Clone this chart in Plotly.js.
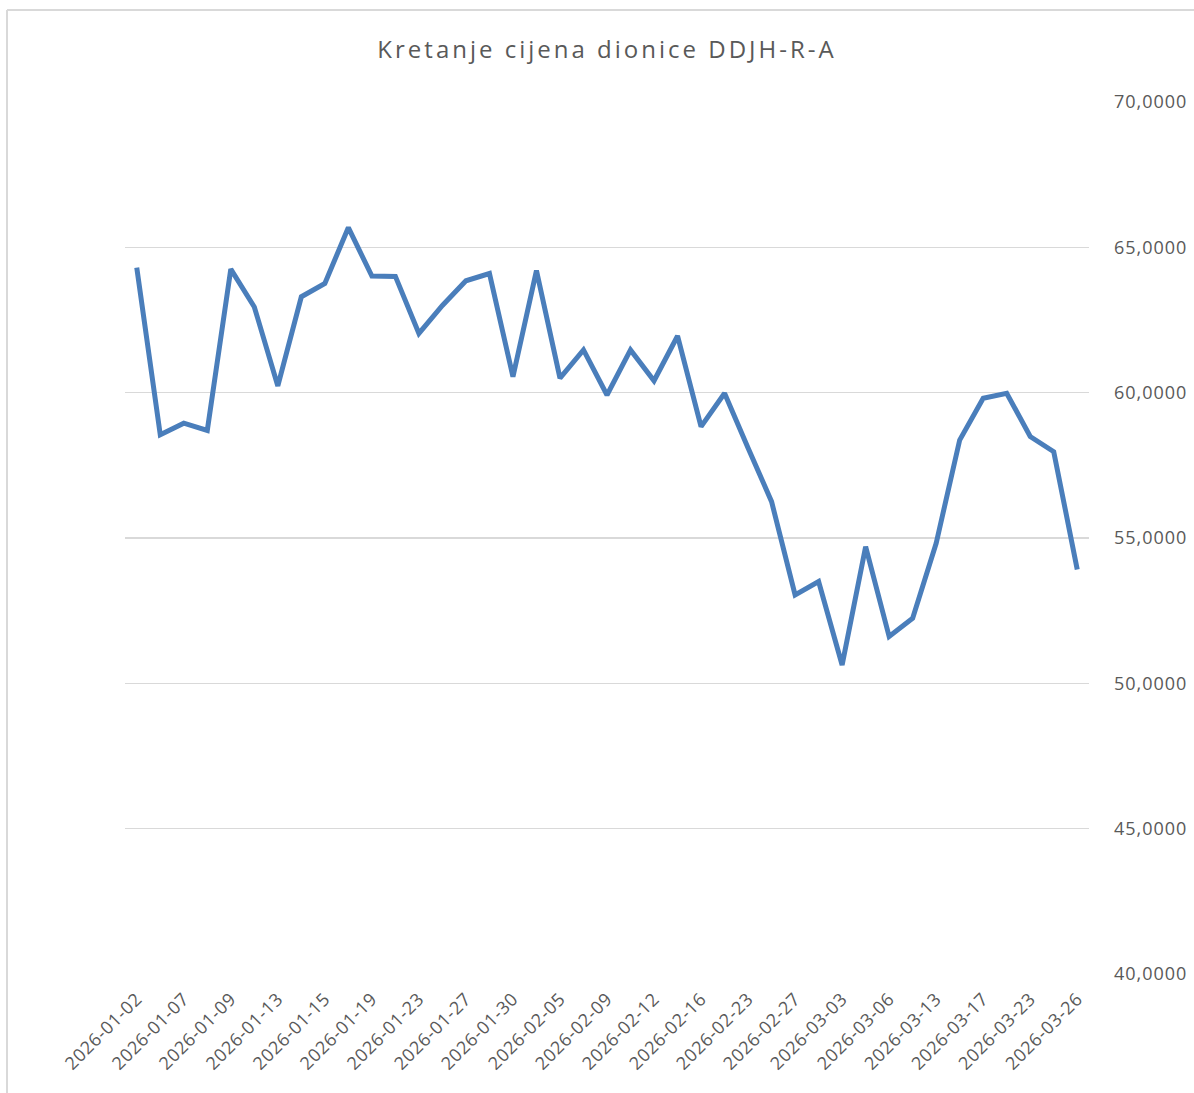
<!DOCTYPE html>
<html>
<head>
<meta charset="utf-8">
<script src="https://cdn.plot.ly/plotly-3.0.1.min.js"></script>
<style>
  html, body { margin: 0; padding: 0; background: #ffffff; }
  #chart { width: 1194px; height: 1093px; }
  #chart .gtitle { letter-spacing: 3px; }
  #chart .ytick text { letter-spacing: 1px; }
  #chart .xtick text { letter-spacing: 0.6px; }
</style>
</head>
<body>
<div id="chart"></div>
<script>
// Trading dates (one point per date)
const dates = [
  "2026-01-02", "2026-01-05", "2026-01-07", "2026-01-08", "2026-01-09",
  "2026-01-12", "2026-01-13", "2026-01-14", "2026-01-15", "2026-01-16",
  "2026-01-19", "2026-01-21", "2026-01-23", "2026-01-26", "2026-01-27",
  "2026-01-29", "2026-01-30", "2026-02-03", "2026-02-05", "2026-02-06",
  "2026-02-09", "2026-02-10", "2026-02-12", "2026-02-13", "2026-02-16",
  "2026-02-19", "2026-02-23", "2026-02-25", "2026-02-27", "2026-03-02",
  "2026-03-03", "2026-03-05", "2026-03-06", "2026-03-10", "2026-03-13",
  "2026-03-16", "2026-03-17", "2026-03-19", "2026-03-23", "2026-03-24",
  "2026-03-26"
];

// Share price (EUR)
const prices = [
  64.30, 58.55, 58.95, 58.70, 64.25,
  62.95, 60.23, 63.30, 63.76, 65.68,
  64.01, 64.00, 62.04, 63.00, 63.85,
  64.10, 60.55, 64.20, 60.50, 61.47,
  59.92, 61.47, 60.41, 61.95, 58.83,
  59.98, 58.10, 56.25, 53.04, 53.50,
  50.63, 54.70, 51.61, 52.24, 54.82,
  58.37, 59.81, 59.98, 58.49, 57.97,
  53.92
];

// Category labels shown on the x axis
const tickLabels = [
  "2026-01-02", "2026-01-07", "2026-01-09", "2026-01-13", "2026-01-15",
  "2026-01-19", "2026-01-23", "2026-01-27", "2026-01-30", "2026-02-05",
  "2026-02-09", "2026-02-12", "2026-02-16", "2026-02-23", "2026-02-27",
  "2026-03-03", "2026-03-06", "2026-03-13", "2026-03-17", "2026-03-23",
  "2026-03-26"
];

const yTicks = [40, 45, 50, 55, 60, 65, 70];

const chartTitle = "Kretanje cijena dionice DDJH-R-A";

const textColor = "#595959";
const gridColor = "#d9d9d9";
const fontFamily = "'Open Sans', 'Noto Sans', sans-serif";

const trace = {
  type: "scatter",
  mode: "lines",
  x: dates,
  y: prices,
  line: { color: "#4a7ebb", width: 5, shape: "linear" },
  hoverinfo: "x+y"
};

const layout = {
  width: 1194,
  height: 1093,
  paper_bgcolor: "#ffffff",
  plot_bgcolor: "#ffffff",
  separators: ", ",
  margin: { l: 125, r: 105, t: 102, b: 119, pad: 0 },
  showlegend: false,
  title: {
    text: chartTitle,
    font: { family: fontFamily, size: 24, color: textColor },
    x: 0.5,
    xref: "paper",
    xanchor: "center",
    y: 1 - 50 / 1093,
    yref: "container",
    yanchor: "middle"
  },
  xaxis: {
    type: "category",
    range: [-0.5, dates.length - 0.5],
    tickmode: "array",
    tickvals: tickLabels,
    ticktext: tickLabels,
    tickangle: -45,
    tickfont: { family: fontFamily, size: 18, color: textColor },
    showgrid: false,
    zeroline: false,
    showline: false,
    ticks: "",
    ticklabelstandoff: 10,
    fixedrange: true
  },
  yaxis: {
    side: "right",
    range: [40, 70],
    tickmode: "array",
    tickvals: yTicks,
    tickformat: ".4f",
    tickfont: { family: fontFamily, size: 18, color: textColor },
    showgrid: true,
    gridcolor: gridColor,
    gridwidth: 1.5,
    zeroline: false,
    showline: false,
    ticks: "",
    ticklabelstandoff: 24,
    fixedrange: true
  },
  shapes: [
    {
      type: "line", xref: "paper", yref: "paper",
      x0: (7 - 125) / 964, x1: (7 - 125) / 964,
      y0: (974 - 10) / 872, y1: (974 - 1100) / 872,
      line: { color: gridColor, width: 2 }
    },
    {
      type: "line", xref: "paper", yref: "paper",
      x0: (7 - 125) / 964, x1: (1200 - 125) / 964,
      y0: (974 - 10) / 872, y1: (974 - 10) / 872,
      line: { color: gridColor, width: 2 }
    }
  ]
};

Plotly.newPlot("chart", [trace], layout, { displayModeBar: false, staticPlot: true });
</script>
</body>
</html>
